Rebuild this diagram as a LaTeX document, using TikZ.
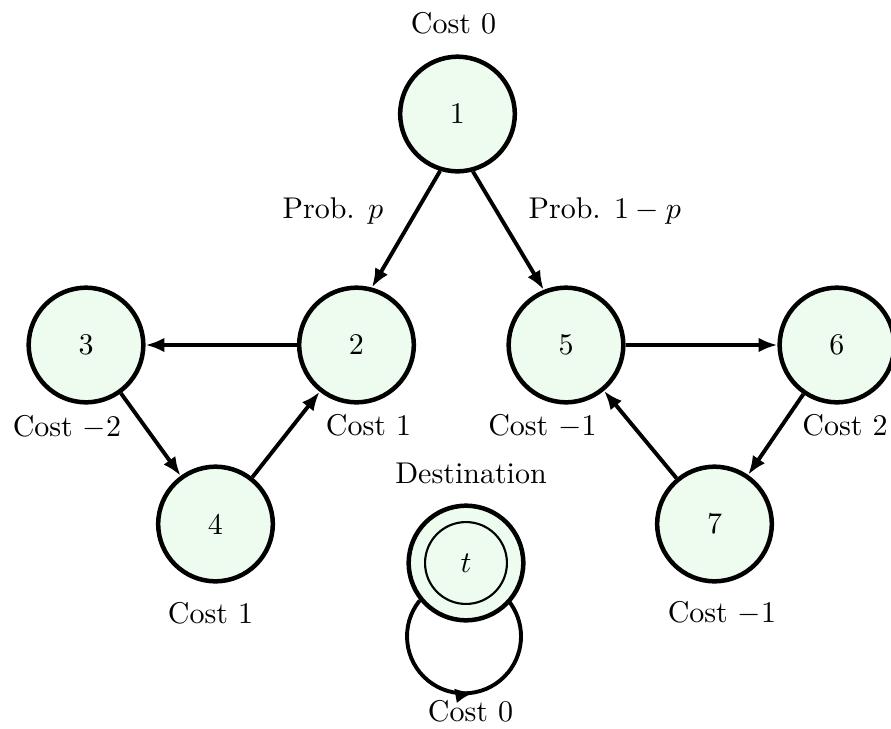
\documentclass[tikz,border=0pt]{standalone}
\usetikzlibrary{arrows.meta,decorations.markings}
\definecolor{nodefill}{RGB}{237,252,238}
\begin{document}
\begin{tikzpicture}[x=0.33333pt,y=-0.33333pt,
  state/.style={circle,draw,line width=1.5pt,fill=nodefill,minimum size=38.2pt,inner sep=0pt},
  edgeline/.style={line width=1.3pt,-{Latex[length=6.3pt,width=4.9pt]}},
  lbl/.style={anchor=base,inner sep=0pt}]
\useasboundingbox (0,0) rectangle (891,729);
% nodes
\node[state] (n1) at (457.5,114) {1};
\node[state] (n2) at (356.5,345) {2};
\node[state] (n3) at (86,345) {3};
\node[state] (n4) at (215.5,524) {4};
\node[state] (n5) at (566,345) {5};
\node[state] (n6) at (837,345) {6};
\node[state] (n7) at (714.5,524) {7};
\node[state] (t) at (466,563) {$t$};
\node[circle,draw,line width=0.7pt,minimum size=27.3pt,inner sep=0pt] (tin) at (t) {};
% labels
\node[lbl] (c1) at (453.5,33) {Cost 0};
\node[lbl,anchor=base west] (pp) at (282,218) {Prob. $p$};
\node[lbl,anchor=base west] (pq) at (528,218) {Prob. $1-p$};
\node[lbl] (c3) at (67,436) {Cost $-2$};
\node[lbl] (c2) at (368.5,435) {Cost 1};
\node[lbl] (c5) at (542.5,435) {Cost $-1$};
\node[lbl] (c6) at (845,435) {Cost 2};
\node[lbl] (dest) at (471,483) {Destination};
\node[lbl] (c4) at (210.5,623) {Cost 1};
\node[lbl] (c7) at (722,622) {Cost $-1$};
\node[lbl] (ct) at (470.5,721) {Cost 0};
% edges
\draw[edgeline] (n1.-107) -- (n2.75);
\draw[edgeline] (n1.-75) -- (n5.112);
\draw[edgeline] (n2) -- (n3);
\draw[edgeline] (n3) -- (n4);
\draw[edgeline] (n4) -- (n2);
\draw[edgeline] (n5) -- (n6);
\draw[edgeline] (n6) -- (n7);
\draw[edgeline] (n7) -- (n5);
% self loop
\draw[line width=1.3pt,
  decoration={markings,mark=at position 0.54 with {\arrow{Latex[length=6.3pt,width=4.9pt]}}},
  postaction={decorate}]
  (t.-141) arc[start angle=141,end angle=399,radius=19pt];
\end{tikzpicture}
\end{document}
